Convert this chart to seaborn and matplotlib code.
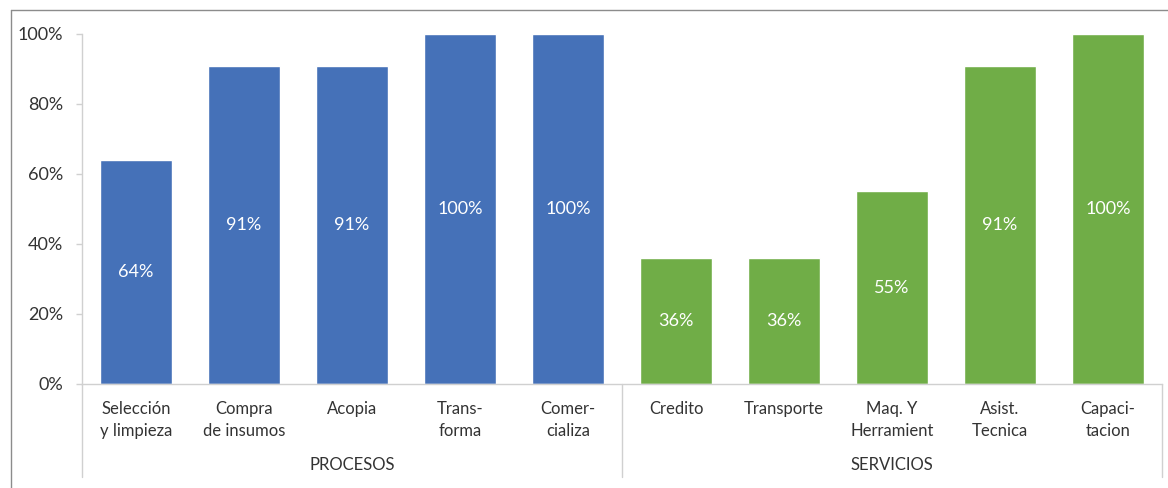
import matplotlib
matplotlib.use("Agg")
import matplotlib.pyplot as plt
from matplotlib.lines import Line2D
import seaborn as sns
import pandas as pd

# Data
categories = ["Selección\ny limpieza", "Compra\nde insumos", "Acopia", "Trans-\nforma",
              "Comer-\ncializa", "Credito", "Transporte", "Maq. Y\nHerramient",
              "Asist.\nTecnica", "Capaci-\ntacion"]
groups = ["PROCESOS"] * 5 + ["SERVICIOS"] * 5
values = [0.64, 0.91, 0.91, 1.00, 1.00, 0.36, 0.36, 0.55, 0.91, 1.00]
group_names = ["PROCESOS", "SERVICIOS"]
y_ticks = [0, 0.2, 0.4, 0.6, 0.8, 1.0]
y_tick_labels = ["0%", "20%", "40%", "60%", "80%", "100%"]

df = pd.DataFrame({"categoria": categories, "grupo": groups, "valor": values})

sns.set_theme(style="white")
plt.rcParams["font.family"] = ["Lato", "DejaVu Sans"]

W, H = 1168, 488
fig = plt.figure(figsize=(W / 100, H / 100), dpi=100)
fig.patch.set_facecolor("white")

# plot area in pixel coords
x0, x1 = 82, 1162
y_top, y_base = 34, 384
ax = fig.add_axes([x0 / W, (H - y_base) / H, (x1 - x0) / W, (y_base - y_top) / H])

palette = {"PROCESOS": "#4571B8", "SERVICIOS": "#70AD47"}
sns.barplot(data=df, x="categoria", y="valor", hue="grupo", palette=palette,
            dodge=False, width=0.667, legend=False, ax=ax, saturation=1)

ax.set_xlim(-0.5, len(categories) - 0.5)
ax.set_ylim(0, 1)
ax.set_xlabel("")
ax.set_ylabel("")

axis_color = "#D0D0D0"
text_color = "#333333"

ax.set_yticks(y_ticks)
ax.set_yticklabels(y_tick_labels, fontsize=13, color=text_color)
ax.tick_params(axis="y", length=4.5, width=1, color=axis_color, pad=9, left=True)
ax.set_xticks(range(len(categories)))
ax.set_xticklabels(categories, fontsize=12, color=text_color, linespacing=1.5)
ax.tick_params(axis="x", length=0, pad=12)

for side in ["top", "right"]:
    ax.spines[side].set_visible(False)
ax.spines["left"].set_color(axis_color)
ax.spines["bottom"].set_color(axis_color)
ax.spines["left"].set_linewidth(1)
ax.spines["bottom"].set_linewidth(1)

# value labels centred inside each bar
for i, v in enumerate(values):
    ax.text(i, v / 2, f"{round(v * 100):d}%", ha="center", va="center",
            fontsize=13, color="white")

# group separators and group labels below the category labels
sep_bottom = -(477 - y_base) / (y_base - y_top)
for xs in [-0.5, 4.5, 9.5]:
    ax.plot([xs, xs], [0, sep_bottom], color=axis_color, lw=1, clip_on=False)
group_y = -(465 - y_base) / (y_base - y_top)
for gi, name in enumerate(group_names):
    ax.text(gi * 5 + 2, group_y, name, ha="center", va="center",
            fontsize=12, color=text_color)

# chart frame
frame_color = "#8C8C8C"
fig.add_artist(Line2D([11 / W, 1.0], [1 - 10 / H, 1 - 10 / H],
                      color=frame_color, lw=1, transform=fig.transFigure))
fig.add_artist(Line2D([11 / W, 11 / W], [0, 1 - 10 / H],
                      color=frame_color, lw=1, transform=fig.transFigure))

fig.savefig("out.png", dpi=100, facecolor="white")
